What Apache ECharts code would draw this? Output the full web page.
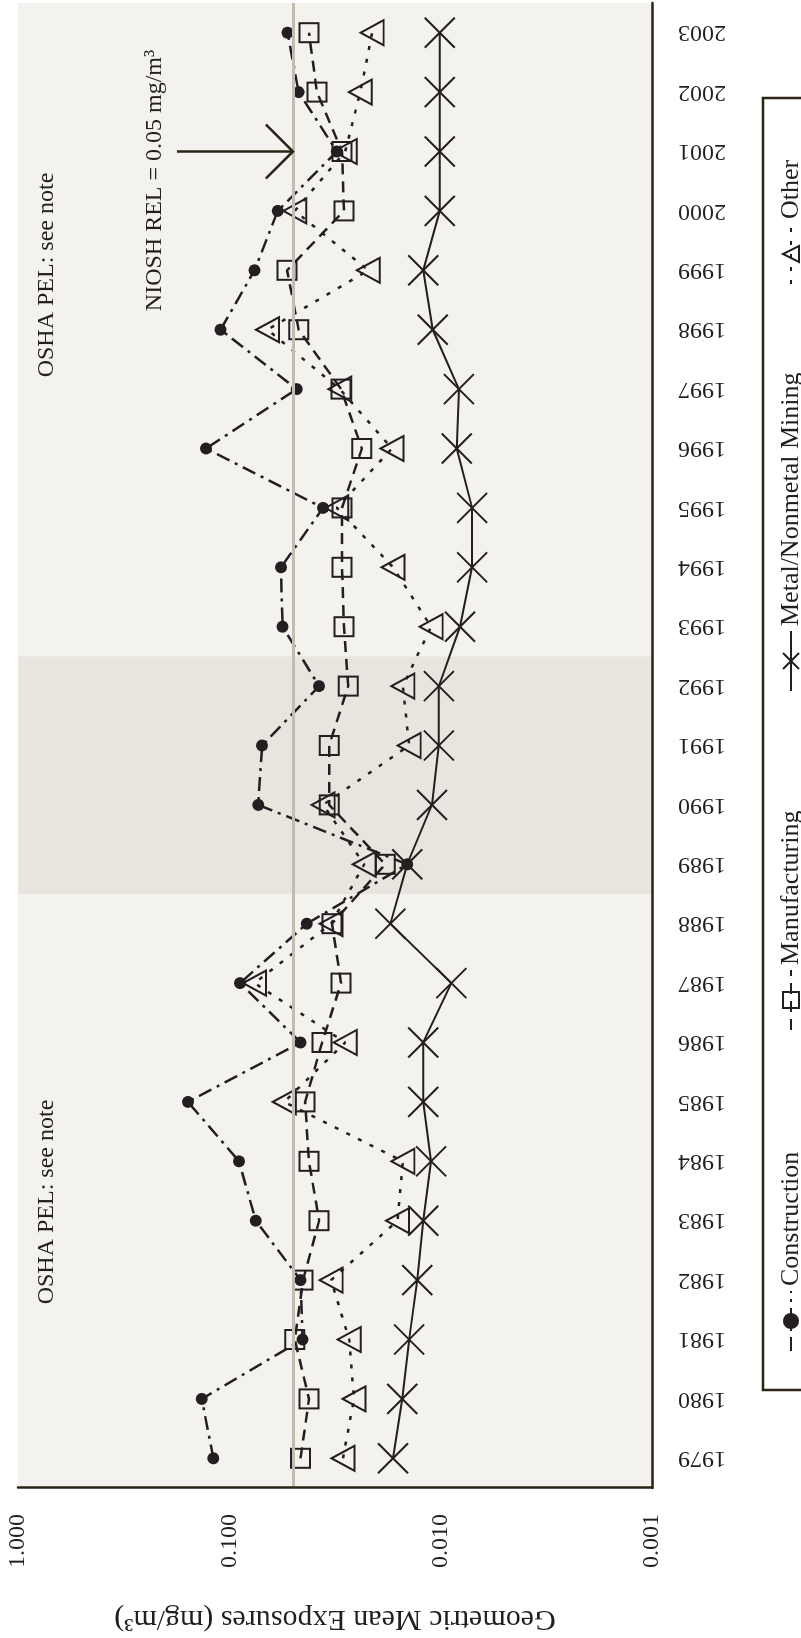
<!DOCTYPE html>
<html>
<head>
<meta charset="utf-8">
<script src="https://cdn.jsdelivr.net/npm/echarts@6/dist/echarts.min.js"></script>
<style>
html,body{margin:0;padding:0;width:801px;height:1638px;overflow:hidden;background:#fff;}
#wrap{position:absolute;left:0;top:0;width:1638px;height:801px;transform-origin:0 0;transform:translate(0,1638px) rotate(-90deg);}
</style>
</head>
<body>
<div id="wrap"></div>
<script>
const years = ['1979','1980','1981','1982','1983','1984','1985','1986','1987','1988','1989','1990','1991','1992','1993','1994','1995','1996','1997','1998','1999','2000','2001','2002','2003'];
const construction = [0.119,0.135,0.045,0.046,0.075,0.090,0.157,0.046,0.089,0.043,0.0144,0.073,0.070,0.0376,0.056,0.057,0.036,0.129,0.048,0.110,0.076,0.059,0.031,0.047,0.053];
const manufacturing = [0.046,0.042,0.049,0.0448,0.0376,0.042,0.0438,0.0364,0.0296,0.0327,0.0183,0.0337,0.0337,0.0274,0.0287,0.0293,0.0293,0.0236,0.0296,0.047,0.0533,0.0287,0.0293,0.0385,0.042];
const metalMining = [0.0168,0.0152,0.0141,0.0129,0.0121,0.0111,0.0121,0.0121,0.0089,0.0173,0.0144,0.0110,0.0102,0.0102,0.0081,0.0071,0.0071,0.0084,0.0082,0.0109,0.0121,0.0101,0.0101,0.0101,0.0101];
const other = [0.029,0.0257,0.0271,0.033,0.016,0.0151,0.055,0.0283,0.076,0.033,0.023,0.036,0.0141,0.0151,0.0111,0.0168,0.031,0.017,0.030,0.066,0.022,0.049,0.0283,0.024,0.0211];
const seriesNames = ['Construction','Manufacturing','Metal/Nonmetal Mining','Other'];
const NIOSH_REL = 0.05;
const bandStart = '1989', bandEnd = '1992';
const arrowYear = '2001';

const INK = '#231f20';
const AXIS = '#2a2417';
const FONT = 'Liberation Serif';
const chart = echarts.init(document.getElementById('wrap'));

const hollow = {color:'rgba(0,0,0,0)', borderColor: INK, borderWidth: 2};
const txt = {fontFamily: FONT, fontSize: 24, color: INK};

function legendAt(name, left){
  return {data:[name], left:left, top:778, padding:0, itemWidth:60, itemHeight:20, itemGap:10,
    textStyle:{fontFamily:FONT, fontSize:26, color:INK}, selectedMode:false};
}

chart.setOption({
  animation:false,
  grid:{left:150, right:3, top:18, bottom:149, show:true, backgroundColor:'#f3f2ef', borderWidth:0,
        containLabel:false, outerBoundsMode:'none'},
  legend:[legendAt(seriesNames[0],286), legendAt(seriesNames[1],607), legendAt(seriesNames[2],946), legendAt(seriesNames[3],1353)],
  xAxis:[{
    type:'category', data:years, boundaryGap:true,
    axisLine:{show:true, lineStyle:{color:AXIS, width:2.5}},
    axisTick:{show:false},
    axisLabel:Object.assign({rotate:90, margin:26, interval:0}, txt),
    z:5
  },{
    type:'value', min:0, max:years.length, show:false
  }],
  yAxis:{
    type:'log', logBase:10, min:0.001, max:1, splitNumber:3,
    axisLine:{show:true, lineStyle:{color:AXIS, width:2.5}},
    axisTick:{show:false}, splitLine:{show:false},
    axisLabel:Object.assign({margin:26, formatter:function(v){return Number(v).toFixed(3);}}, txt),
    name:'Geometric Mean Exposures (mg/m³)', nameLocation:'middle', nameRotate:90, nameGap:116,
    nameMoveOverlap:false,
    nameTextStyle:{fontFamily:FONT, fontSize:30, color:INK},
    z:5
  },
  series:[
    {type:'line', xAxisIndex:1, yAxisIndex:0, data:[], z:1, silent:true,
     markArea:{silent:true, itemStyle:{color:'#e8e5df'},
       data:[[{xAxis:years.indexOf(bandStart)},{xAxis:years.indexOf(bandEnd)+1}]]},
     markLine:{silent:true, symbol:['none','none'], label:{show:false},
       lineStyle:{color:'#c4bcae', width:3, type:'solid'},
       data:[{yAxis:NIOSH_REL}]}
    },
    {name:seriesNames[0], type:'line', data:construction, z:4, symbol:'circle', symbolSize:12,
     itemStyle:{color:INK}, lineStyle:{color:INK, width:2.5, type:[14,6,3,6]}},
    {name:seriesNames[1], type:'line', data:manufacturing, z:4, symbol:'rect', symbolSize:19,
     itemStyle:hollow, lineStyle:{color:INK, width:2.5, type:[11,7]}},
    {name:seriesNames[2], type:'line', data:metalMining, z:4, symbol:'path://M0,0L10,10M10,0L0,10', symbolSize:30,
     itemStyle:{color:'none', borderColor:INK, borderWidth:2}, lineStyle:{color:INK, width:2, type:'solid'}},
    {name:seriesNames[3], type:'line', data:other, z:4, symbol:'triangle', symbolSize:[25,23],
     itemStyle:hollow, lineStyle:{color:INK, width:2.5, type:[4,9]}}
  ]
});

const ax = chart.convertToPixel({xAxisIndex:0}, arrowYear);
const tip = chart.convertToPixel({yAxisIndex:0}, NIOSH_REL);
const tstyle = {fontFamily:FONT, fontSize:24, fill:INK, align:'center', verticalAlign:'middle'};
chart.setOption({
  graphic:[
    {type:'rect', shape:{x:248, y:763, width:1292, height:90}, style:{fill:'none', stroke:AXIS, lineWidth:2.5}, silent:true},
    {type:'text', x:436, y:47, style:Object.assign({text:'OSHA PEL: see note'}, tstyle)},
    {type:'text', x:1363, y:47, style:Object.assign({text:'OSHA PEL: see note'}, tstyle)},
    {type:'text', x:880, y:47, style:Object.assign({text:'OSHA PEL'}, tstyle)},
    {type:'text', x:880, y:79, style:Object.assign({text:'0.1 mg/m³'}, tstyle)},
    {type:'text', x:ax-29, y:155, style:Object.assign({text:'NIOSH REL = 0.05 mg/m³'}, tstyle)},
    {type:'polyline', shape:{points:[[ax,177],[ax,tip]]}, style:{stroke:AXIS, lineWidth:2.5}, z:10},
    {type:'polyline', shape:{points:[[ax-27,tip-27],[ax,tip],[ax+27,tip-27]]}, style:{stroke:AXIS, lineWidth:2.5, fill:'none'}, z:10}
  ]
});
</script>
</body>
</html>
